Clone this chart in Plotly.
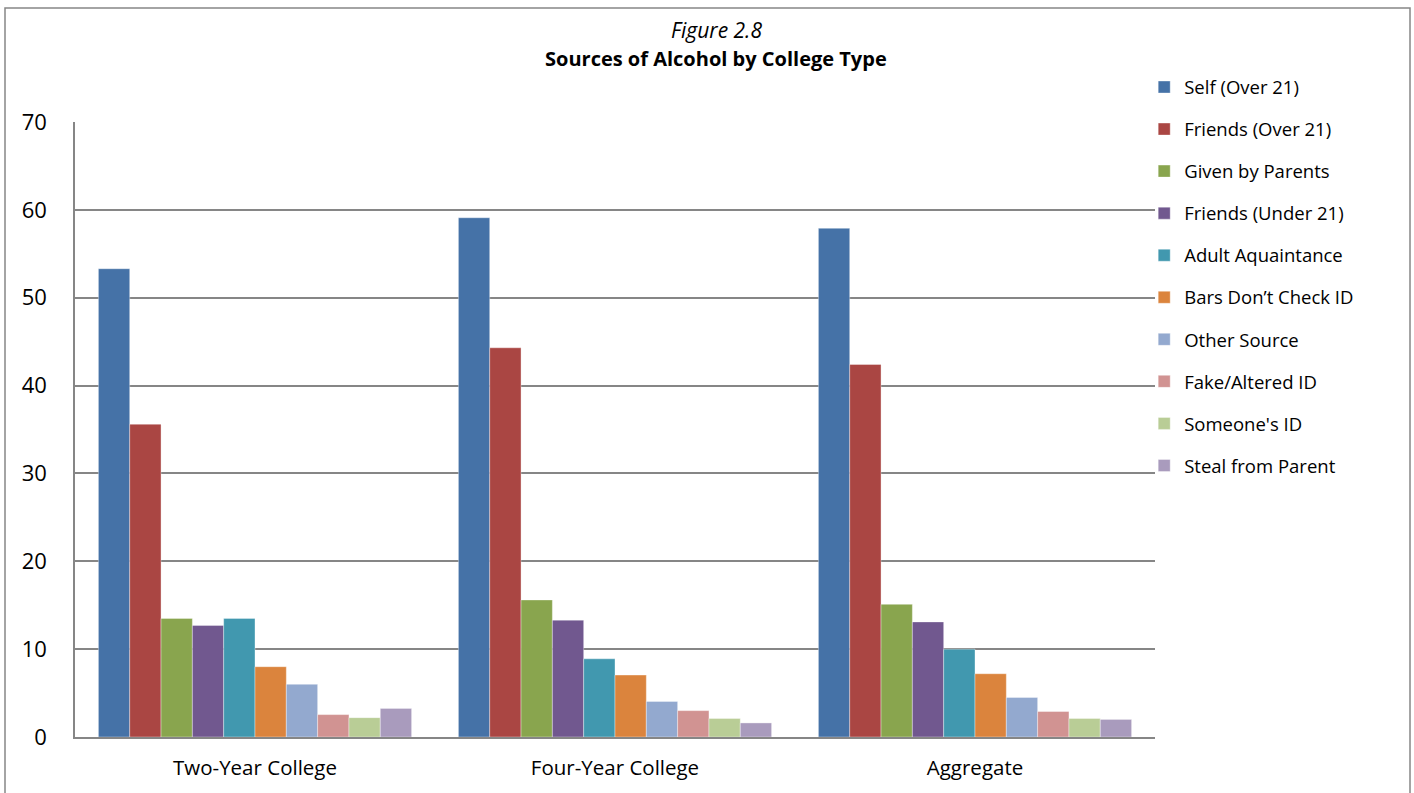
import plotly.graph_objects as go

categories = ["Two-Year College", "Four-Year College", "Aggregate"]
series_names = ["Self (Over 21)", "Friends (Over 21)", "Given by Parents", "Friends (Under 21)",
                "Adult Aquaintance", "Bars Don\u2019t Check ID", "Other Source", "Fake/Altered ID",
                "Someone's ID", "Steal from Parent"]
self_over21 = [53.3, 59.1, 57.9]
friends_over21 = [35.6, 44.3, 42.4]
given_by_parents = [13.5, 15.6, 15.1]
friends_under21 = [12.7, 13.3, 13.1]
adult_aquaintance = [13.5, 8.9, 10.0]
bars_no_id = [8.0, 7.05, 7.2]
other_source = [6.0, 4.05, 4.5]
fake_id = [2.55, 3.0, 2.9]
someones_id = [2.2, 2.1, 2.1]
steal_parent = [3.25, 1.6, 2.0]
series_values = [self_over21, friends_over21, given_by_parents, friends_under21, adult_aquaintance,
                 bars_no_id, other_source, fake_id, someones_id, steal_parent]
colors = ["#4572A7", "#AA4643", "#89A54E", "#71588F", "#4198AF", "#DB843D", "#93A9CF",
          "#D19392", "#B9CD96", "#A99BBD"]
y_ticks = [0, 10, 20, 30, 40, 50, 60, 70]

FONT = "'Open Sans', Lato, sans-serif"

fig = go.Figure()
for name, vals, col in zip(series_names, series_values, colors):
    fig.add_trace(go.Bar(x=categories, y=vals, name=name, marker_color=col,
                         marker_line=dict(color="rgba(255,255,255,0.6)", width=0.6),
                         legendgroup=name))

W, H = 1414, 793
L, R, T, B = 75, 1155, 122, 737
fig.update_layout(
    width=W, height=H,
    margin=dict(l=L, r=W - R, t=T, b=H - B),
    paper_bgcolor="white", plot_bgcolor="white",
    barmode="group", bargap=0.13, bargroupgap=0,
    font=dict(family=FONT, color="black"),
    showlegend=True,
    legend=dict(x=0.99, xanchor="left", y=1.087, yanchor="top", maxheight=700,
                font=dict(size=18.5, family=FONT, color="black"),
                tracegroupgap=15, traceorder="grouped", bgcolor="rgba(0,0,0,0)"),
    xaxis=dict(showgrid=False, showline=True, linecolor="#868686", linewidth=1.5,
               ticks="", tickfont=dict(size=20.5), ticklabelstandoff=12),
    yaxis=dict(range=[0, 70], tickvals=y_ticks, showgrid=True, gridcolor="#868686",
               gridwidth=1.5, showline=True, linecolor="#868686", linewidth=1.5,
               ticks="", tickfont=dict(size=22), ticklabelstandoff=22, zeroline=False),
)

# outer chart border
fig.add_shape(type="rect", xref="paper", yref="paper",
              x0=(5 - L) / (R - L), x1=(1410 - L) / (R - L),
              y0=(B - 820) / (B - T), y1=(B - 8) / (B - T),
              line=dict(color="#868686", width=1.5), fillcolor="rgba(0,0,0,0)", layer="below")

fig.add_annotation(text="<i>Figure 2.8</i>", xref="paper", yref="paper",
                   x=(716 - L) / (R - L), y=(B - 30) / (B - T), showarrow=False,
                   font=dict(size=21, family=FONT), xanchor="center", yanchor="middle")
fig.add_annotation(text="<b>Sources of Alcohol by College Type</b>", xref="paper", yref="paper",
                   x=(716 - L) / (R - L), y=(B - 58) / (B - T), showarrow=False,
                   font=dict(size=20, family=FONT), xanchor="center", yanchor="middle")

fig.write_html("out.html", config={"displayModeBar": False},
               post_script="document.body.style.margin='0';document.body.style.overflow='hidden';")
